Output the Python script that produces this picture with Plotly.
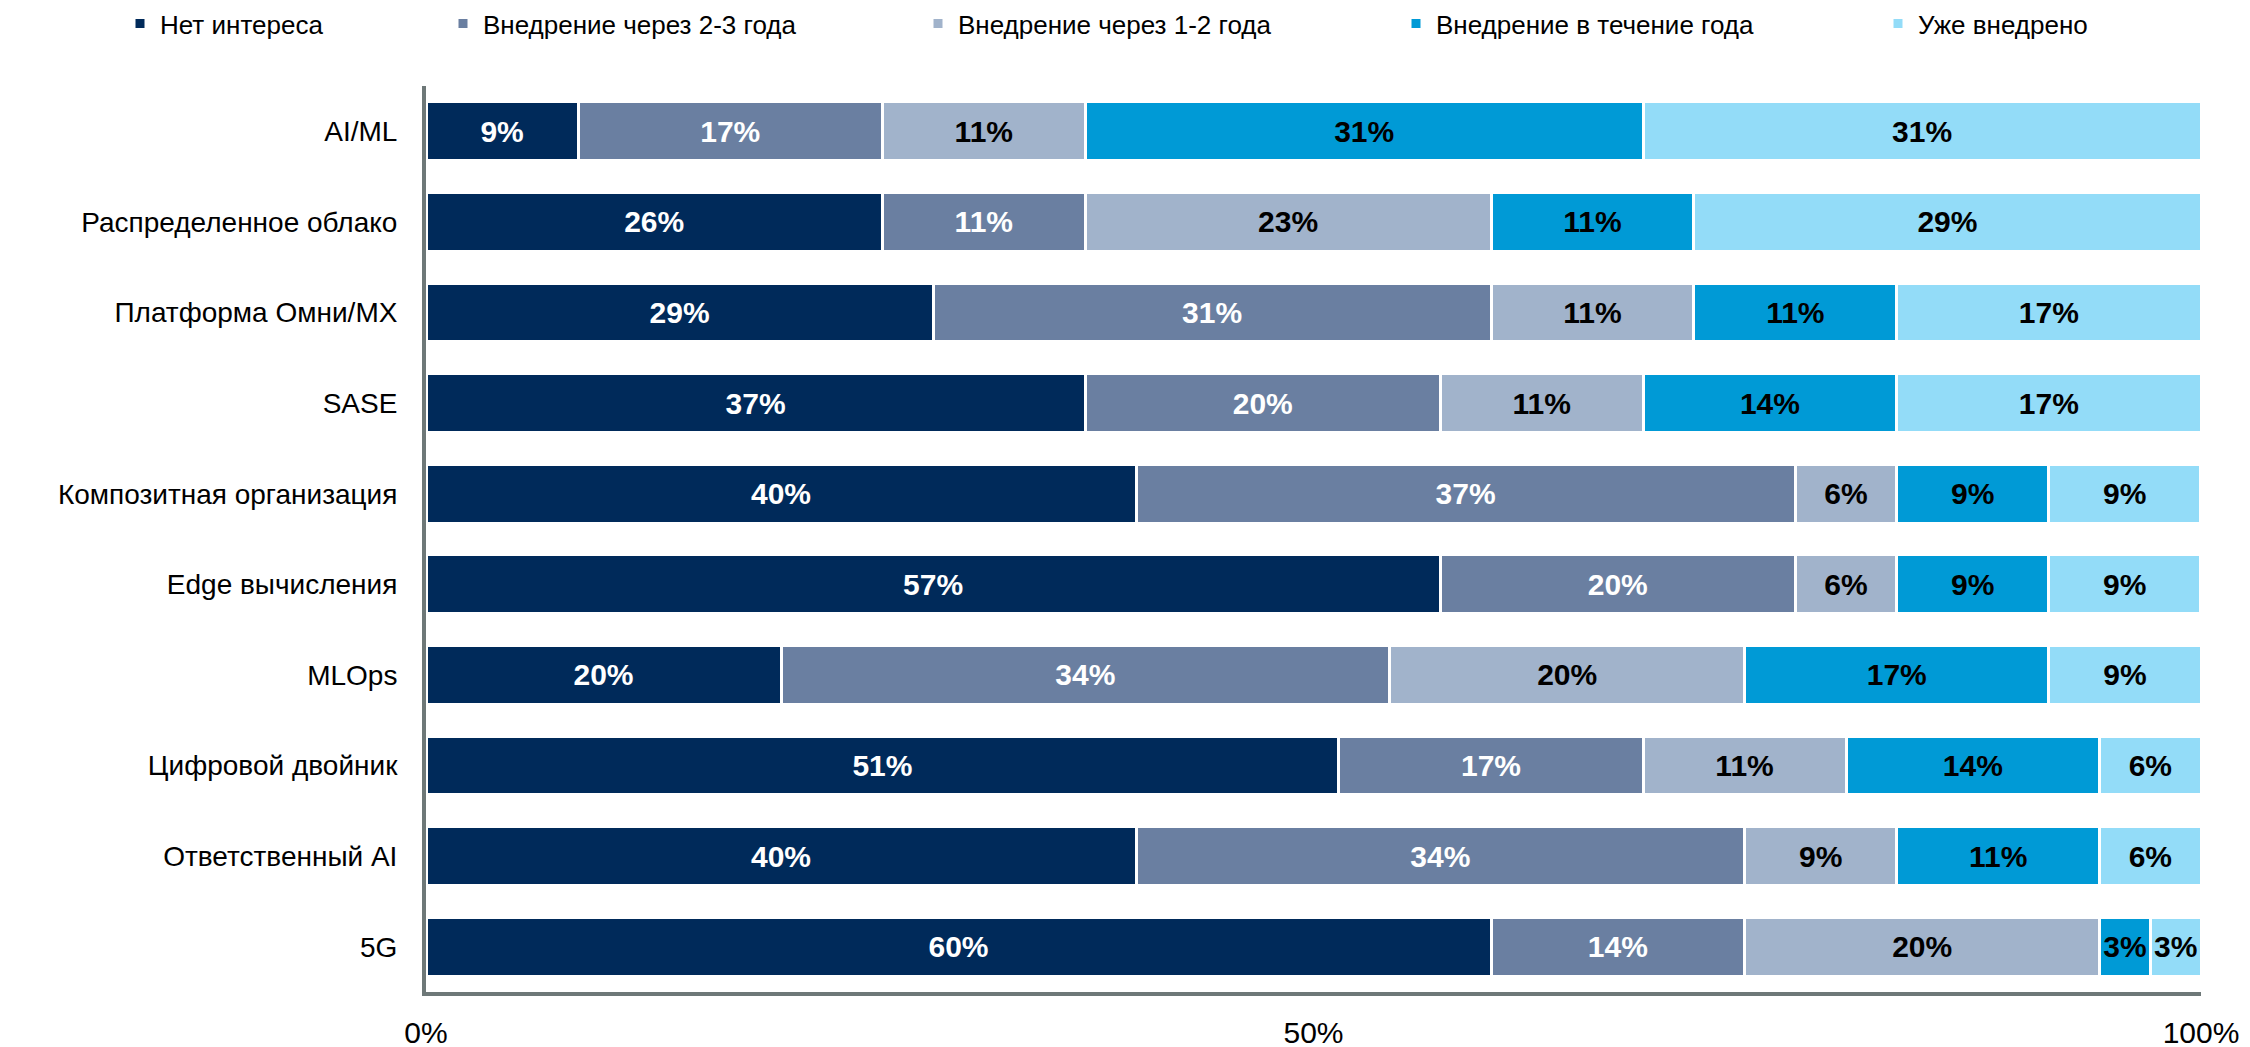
import plotly.graph_objects as go

categories = ["AI/ML", "Распределенное облако", "Платформа Омни/MX", "SASE",
              "Композитная организация", "Edge вычисления", "MLOps",
              "Цифровой двойник", "Ответственный AI", "5G"]

series_names = ["Нет интереса", "Внедрение через 2-3 года", "Внедрение через 1-2 года",
                "Внедрение в течение года", "Уже внедрено"]

no_interest = [8.57, 25.71, 28.57, 37.14, 40.00, 57.14, 20.00, 51.43, 40.00, 60.00]
in_2_3_years = [17.14, 11.43, 31.43, 20.00, 37.14, 20.00, 34.29, 17.14, 34.29, 14.29]
in_1_2_years = [11.43, 22.86, 11.43, 11.43, 5.71, 5.71, 20.00, 11.43, 8.57, 20.00]
within_year = [31.43, 11.43, 11.43, 14.29, 8.57, 8.57, 17.14, 14.29, 11.43, 2.86]
already = [31.43, 28.57, 17.14, 17.14, 8.57, 8.57, 8.57, 5.71, 5.71, 2.86]

x_ticks = [0, 50, 100]
x_tick_labels = ["0%", "50%", "100%"]

series_values = [no_interest, in_2_3_years, in_1_2_years, within_year, already]
colors = ["#002A5A", "#6A7FA1", "#A1B3CB", "#009AD6", "#93DCF8"]
text_colors = ["white", "white", "black", "black", "black"]
# legend left edges in pixels of the 2250-wide figure
legend_px = [112, 435, 910, 1388, 1870]

FONT = "Liberation Sans, Arial, sans-serif"
W, H = 2250, 1047
ML, MR, MT, MB = 418, 57, 78, 63

fig = go.Figure()
for i, (name, vals) in enumerate(zip(series_names, series_values)):
    lg = "legend" if i == 0 else f"legend{i+1}"
    fig.add_trace(go.Bar(
        y=categories, x=vals, name=name, orientation="h",
        marker=dict(color=colors[i], line=dict(color="white", width=3)),
        texttemplate="%{x:.0f}%", textposition="inside", insidetextanchor="middle",
        textangle=0, constraintext="none",
        textfont=dict(family=FONT, size=30, color=text_colors[i], weight="bold"),
        legend=lg, showlegend=True, hoverinfo="skip",
    ))

layout_legends = {}
for i in range(5):
    key = "legend" if i == 0 else f"legend{i+1}"
    layout_legends[key] = dict(
        x=legend_px[i] / W, y=1 - 15.5 / H, xref="container", yref="container",
        xanchor="left", yanchor="middle", visible=True,
        orientation="h", font=dict(family=FONT, size=26, color="black"),
        bgcolor="rgba(0,0,0,0)", itemclick=False,
    )

fig.update_layout(
    barmode="stack",
    bargap=0.35,
    showlegend=True,
    width=W, height=H,
    margin=dict(l=ML, r=MR, t=MT, b=MB, autoexpand=False),
    plot_bgcolor="white", paper_bgcolor="white",
    font=dict(family=FONT, size=26, color="black"),
    **layout_legends,
)
fig.update_yaxes(
    autorange="reversed", showline=True, linecolor="#6E7878", linewidth=4,
    ticks="", showgrid=False, ticklabelstandoff=19,
    tickfont=dict(family=FONT, size=28, color="black"),
)
fig.update_xaxes(
    range=[0, 100], tickvals=x_ticks, ticktext=x_tick_labels,
    showline=True, linecolor="#6E7878", linewidth=4, showgrid=False,
    zeroline=False, ticks="", ticklabelstandoff=11,
    tickfont=dict(family=FONT, size=30, color="black"),
)

fig.write_html("out.html")
